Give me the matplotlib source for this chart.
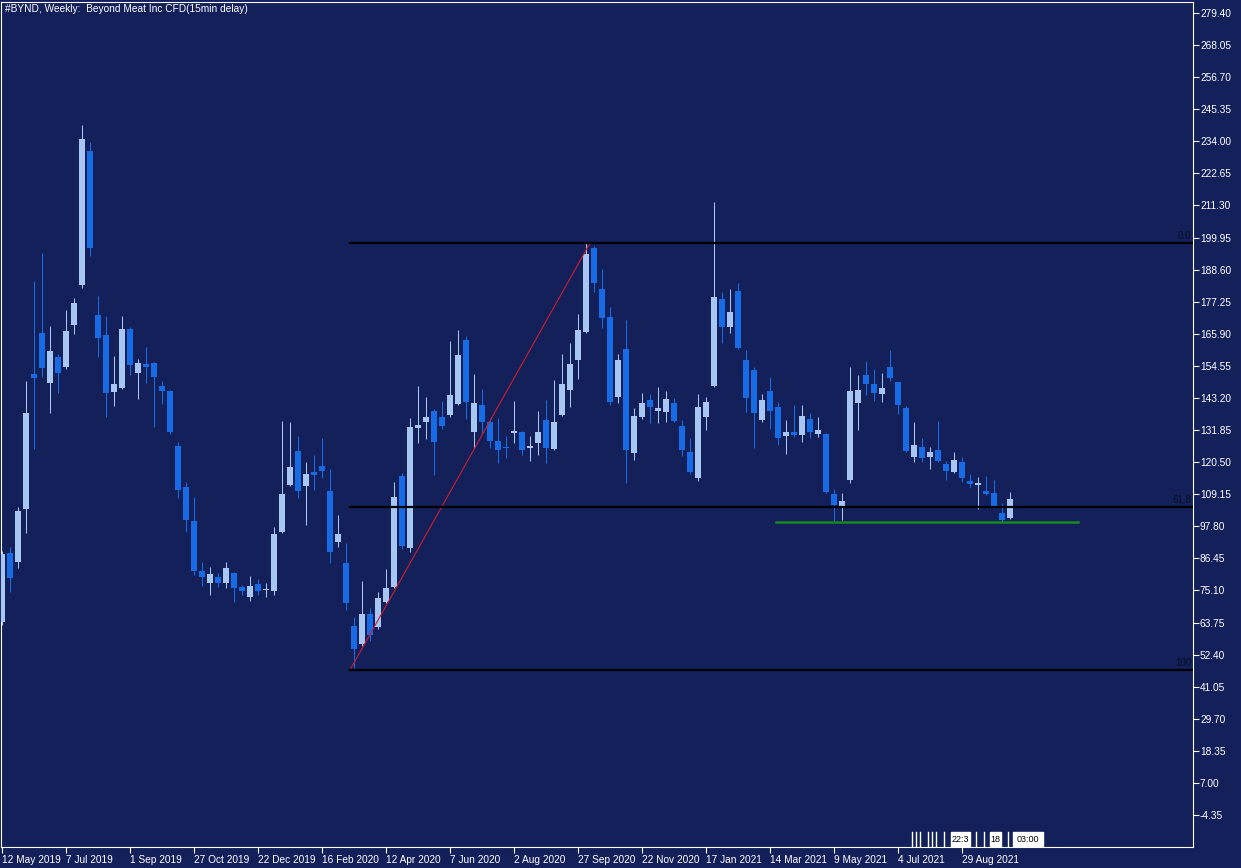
import matplotlib
matplotlib.use("Agg")
import matplotlib.pyplot as plt
from matplotlib.patches import Rectangle

plt.rcParams['font.family'] = ['Liberation Sans', 'DejaVu Sans']

# weekly candles, bar 0 = week of 12 May 2019
opens = [64.0, 88.2, 85.3, 103.9, 151.6, 166.1, 148.6, 157.6, 154.3, 169.0,
         183.2, 230.6, 172.5, 165.5, 145.4, 146.8, 167.5, 152.1, 155.2, 155.5,
         147.4, 145.7, 126.2, 111.8, 99.7, 82.0, 77.9, 80.0, 77.6, 81.4,
         76.4, 72.9, 77.3, 75.3, 74.9, 95.9, 112.4, 124.4, 112.2, 117.1,
         119.1, 110.3, 92.3, 84.7, 62.6, 56.0, 66.8, 62.0, 71.1, 76.4,
         115.7, 90.0, 132.5, 134.8, 138.6, 136.4, 137.2, 141.0, 163.7, 131.3,
         140.7, 134.8, 128.0, 126.0, 130.9, 131.3, 125.4, 127.2, 135.4, 125.2,
         137.2, 146.0, 156.6, 166.7, 196.4, 181.8, 171.7, 143.7, 160.5, 123.6,
         136.6, 142.5, 138.7, 138.4, 141.3, 133.4, 124.2, 114.8, 136.6, 147.5,
         178.2, 168.4, 181.0, 156.6, 153.1, 135.4, 145.7, 140.1, 129.9, 131.0,
         130.1, 135.8, 130.3, 130.3, 109.2, 104.8, 114.2, 141.5, 151.3, 148.1,
         144.6, 154.0, 148.7, 139.8, 122.4, 126.0, 122.2, 124.8, 119.7, 116.9,
         120.7, 113.8, 112.4, 110.4, 109.7, 102.6, 100.6]
highs = [89.0, 90.6, 104.7, 149.2, 184.7, 194.6, 168.8, 158.7, 174.3, 178.7,
         239.8, 233.9, 179.3, 172.2, 158.0, 172.2, 168.4, 156.9, 161.3, 156.0,
         149.2, 146.0, 127.5, 113.6, 108.3, 85.3, 83.5, 81.2, 85.1, 81.8,
         77.0, 80.2, 79.2, 77.6, 97.7, 135.1, 134.8, 129.7, 120.7, 123.0,
         129.1, 117.9, 101.8, 91.8, 65.8, 78.4, 68.8, 74.7, 82.7, 113.4,
         116.5, 136.2, 147.4, 143.4, 139.3, 142.1, 163.4, 167.3, 165.1, 151.6,
         146.4, 136.0, 136.2, 129.8, 142.2, 131.6, 129.8, 138.7, 142.5, 149.6,
         158.8, 162.8, 172.9, 198.0, 196.8, 188.7, 175.3, 158.8, 170.8, 139.8,
         144.8, 144.5, 147.2, 145.7, 143.1, 135.4, 128.9, 144.6, 143.7, 212.7,
         180.6, 181.8, 184.0, 160.2, 154.3, 144.6, 150.5, 141.6, 135.4, 140.7,
         140.7, 137.8, 136.6, 130.7, 111.0, 109.5, 154.3, 151.3, 156.3, 153.4,
         151.9, 160.2, 149.0, 140.5, 134.6, 128.9, 126.0, 135.0, 121.0, 124.2,
         122.2, 116.2, 115.4, 115.6, 114.2, 106.2, 109.9]
lows = [63.0, 74.7, 83.2, 95.3, 125.0, 150.7, 138.0, 144.8, 153.4, 165.8,
        182.0, 193.5, 157.8, 136.3, 140.5, 146.5, 151.3, 142.7, 148.6, 133.1,
        141.0, 130.3, 107.7, 95.9, 80.6, 76.8, 73.5, 76.4, 75.9, 70.9,
        73.5, 71.4, 73.5, 72.9, 73.5, 95.5, 112.0, 107.9, 98.2, 110.6,
        115.0, 84.9, 90.6, 68.2, 47.5, 55.6, 57.2, 61.6, 70.6, 76.1,
        89.8, 88.8, 127.2, 128.6, 116.0, 132.1, 136.6, 140.7, 135.6, 125.4,
        130.7, 125.4, 120.3, 122.1, 127.2, 123.0, 121.0, 123.0, 120.3, 124.8,
        136.8, 140.1, 149.9, 166.3, 180.8, 167.8, 140.7, 141.3, 113.0, 121.3,
        135.8, 134.5, 134.2, 134.8, 134.8, 122.8, 116.2, 113.8, 131.9, 147.2,
        162.5, 166.1, 160.5, 138.3, 125.6, 134.8, 132.1, 126.6, 123.3, 129.5,
        127.5, 128.9, 129.5, 109.5, 99.8, 100.0, 113.0, 131.9, 144.2, 142.2,
        141.7, 149.3, 137.5, 124.1, 120.4, 120.7, 117.9, 120.7, 114.2, 116.5,
        113.6, 111.6, 104.0, 108.9, 104.2, 98.9, 100.3]
closes = [88.0, 79.6, 103.2, 137.8, 150.4, 153.9, 159.8, 152.1, 166.9, 176.7,
          234.8, 196.4, 164.3, 144.8, 148.0, 167.6, 154.9, 155.5, 154.3, 150.5,
          145.8, 131.3, 110.6, 100.0, 82.0, 80.0, 80.8, 77.6, 83.2, 76.1,
          74.9, 76.8, 75.0, 75.6, 95.0, 109.1, 118.9, 110.3, 116.3, 115.9,
          117.4, 88.8, 95.1, 70.5, 54.4, 66.8, 59.3, 72.3, 75.9, 108.0,
          90.8, 132.8, 133.6, 136.6, 127.7, 133.4, 144.3, 158.4, 141.9, 141.3,
          134.8, 128.1, 124.8, 125.4, 131.5, 124.8, 126.3, 131.3, 125.6, 134.6,
          148.0, 155.2, 167.2, 194.0, 184.0, 171.4, 141.9, 156.6, 124.8, 136.8,
          141.3, 140.1, 139.8, 142.8, 135.2, 124.8, 117.1, 140.1, 141.6, 179.0,
          168.4, 173.7, 160.8, 143.1, 137.8, 142.5, 138.6, 129.1, 131.0, 130.1,
          136.8, 131.3, 131.9, 110.0, 105.3, 106.8, 145.7, 146.0, 148.1, 145.1,
          146.8, 150.4, 140.7, 124.4, 126.6, 121.8, 124.2, 121.0, 117.5, 121.3,
          115.0, 112.8, 113.0, 109.2, 104.8, 100.0, 107.5]

date_labels = ['12 May 2019', '7 Jul 2019', '1 Sep 2019', '27 Oct 2019',
               '22 Dec 2019', '16 Feb 2020', '12 Apr 2020', '7 Jun 2020',
               '2 Aug 2020', '27 Sep 2020', '22 Nov 2020', '17 Jan 2021',
               '14 Mar 2021', '9 May 2021', '4 Jul 2021', '29 Aug 2021']
label_step = 8  # weeks between date labels

# price scale shown on the right
y_top_tick = 279.40
y_step = 11.35
n_yticks = 26

# fibonacci retracement (low -> high)
fib_high = 198.02
fib_low = 46.95
fib_start, fib_end = 43.5, 73.5
fib_levels = [0.0, 61.8, 100.0]
fib_texts = ['0.0', '61.8', '100']

# support line
support_price = 99.3
support_start, support_end = 96.75, 134.5

bg = '#13205a'
up_col = '#a7c7f2'
dn_col = '#176ce6'

fig = plt.figure(figsize=(12.41, 8.68), dpi=100, facecolor=bg)
ax = fig.add_axes([1 / 1241, 21 / 868, 1192 / 1241, 845 / 868])
ax.set_facecolor(bg)

xs = list(range(len(opens)))
cols = [up_col if c >= o else dn_col for o, c in zip(opens, closes)]
ax.vlines(xs, lows, highs, colors=cols, linewidth=0.75, zorder=2)
bottoms = [min(o, c) for o, c in zip(opens, closes)]
heights = [max(abs(c - o), 0.45) for o, c in zip(opens, closes)]
ax.bar(xs, heights, bottom=bottoms, width=0.66, color=cols, linewidth=0, zorder=3)

# fibo
rng = fib_high - fib_low
ax.plot([fib_start, fib_end], [fib_low, fib_high], color='#d01c30', linewidth=0.8, zorder=4)
for lvl, txt in zip(fib_levels, fib_texts):
    p = fib_high - lvl / 100 * rng
    ax.plot([fib_start, 200], [p, p], color='black', linewidth=1.6, zorder=4)
    ax.text(0.9985, p + 0.6, txt, transform=ax.get_yaxis_transform(), ha='right',
            va='bottom', fontsize=7, color='#0b0f26', zorder=5)

ax.plot([support_start, support_end], [support_price, support_price],
        color='#18891f', linewidth=1.8, zorder=4)

ax.set_xlim(-0.125, 148.875)
ax.set_ylim(-15.67, 283.29)

# axes look
for s in ax.spines.values():
    s.set_color('white')
    s.set_linewidth(0.8)
ax.yaxis.tick_right()
yt = [y_top_tick - k * y_step for k in range(n_yticks)]
ax.set_yticks(yt)
ax.set_yticklabels([f'{v:.2f}' for v in yt])
ax.tick_params(axis='y', colors='white', labelcolor='white', length=4, width=0.8,
               pad=1, labelsize=7.3)
xt = [k * label_step for k in range(len(date_labels))]
ax.set_xticks(xt)
ax.set_xticklabels(date_labels)
for lab in ax.get_xticklabels():
    lab.set_horizontalalignment('left')
ax.tick_params(axis='x', colors='white', labelcolor='white', length=4, width=0.8,
               pad=1.5, labelsize=7.3)

fig.text(5 / 1241, 1 - 9 / 868, '#BYND, Weekly:  Beyond Meat Inc CFD(15min delay)',
         color='white', fontsize=7.3, va='center', ha='left')

# time-axis object markers at the bottom of the chart
marker_lines = [113.7, 114.2, 114.8, 115.8, 116.3, 116.8, 117.7, 121.7, 122.7, 125.8]
marker_boxes = [('22:3', 118.6, 121.0), ('18', 123.5, 124.9), ('03:00', 126.4, 130.1)]
for mx in marker_lines:
    ax.plot([mx, mx], [-15.4, -10.4], color='white', linewidth=1.0, zorder=6)
for txt, x0, x1 in marker_boxes:
    ax.add_patch(Rectangle((x0, -15.4), x1 - x0, 5.0, facecolor='white',
                           edgecolor='white', zorder=6))
    ax.text((x0 + x1) / 2, -12.9, txt, color='black', fontsize=6.5, ha='center',
            va='center', zorder=7)

fig.savefig('out.png', dpi=100, facecolor=bg)
